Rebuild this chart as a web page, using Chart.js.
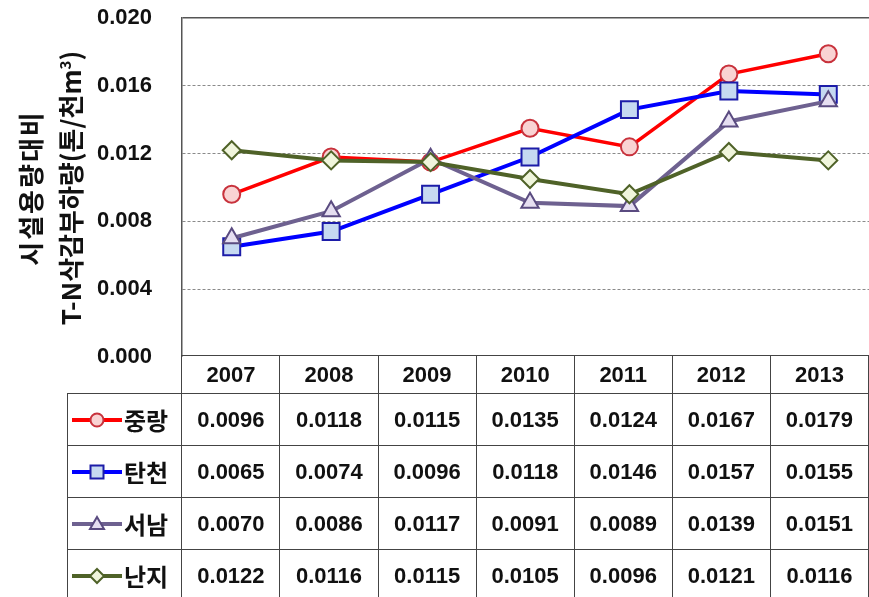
<!DOCTYPE html>
<html>
<head>
<meta charset="utf-8">
<script src="https://cdn.jsdelivr.net/npm/chart.js@4/dist/chart.umd.min.js"></script>
<style>
  html, body { margin: 0; padding: 0; background: #fff; width: 869px; height: 597px; overflow: hidden; }
  #wrap { position: relative; width: 869px; height: 597px; overflow: hidden; }
  #chart { position: absolute; left: 0; top: -25px; }
  .ytitle { position: absolute; width: 340px; height: 40px; line-height: 40px; text-align: center;
    font-family: "Noto Sans CJK KR", sans-serif; font-weight: bold; font-size: 26px; color: #111;
    transform: rotate(-90deg); white-space: nowrap; }
  .ytitle sup { font-size: 15px; line-height: 0; }
  table { position: absolute; left: 67px; top: 355px; border-collapse: collapse; table-layout: fixed; }
  td { border: 1.5px solid #444; padding: 0; text-align: center; color: #111;
    font-family: "Liberation Sans", Arial, sans-serif; font-weight: bold; font-size: 22px; }
  tr.head td { height: 37px; }
  tr.row td { height: 51px; }
  td.corner { border-top: none; border-left: none; }
  td.name { text-align: left; padding-left: 4px; white-space: nowrap; }
  td.name svg { vertical-align: middle; }
  td.name span { font-family: "Noto Sans CJK KR", sans-serif; font-size: 24px; vertical-align: middle; margin-left: 2px; }
</style>
</head>
<body>
<div id="wrap">
  <canvas id="chart" width="878" height="425"></canvas>
  <div class="ytitle" style="left:-140px; top:168px; letter-spacing:2px;">시설용량대비</div>
  <div class="ytitle" style="left:-100px; top:168px;">T-N삭감부하량(톤/천m<sup>3</sup>)</div>
  <table id="tbl"></table>
</div>
<script>
const years = ['2007', '2008', '2009', '2010', '2011', '2012', '2013'];
const seriesNames = ['중랑', '탄천', '서남', '난지'];
const jungnang = [0.0096, 0.0118, 0.0115, 0.0135, 0.0124, 0.0167, 0.0179];
const tancheon = [0.0065, 0.0074, 0.0096, 0.0118, 0.0146, 0.0157, 0.0155];
const seonam   = [0.0070, 0.0086, 0.0117, 0.0091, 0.0089, 0.0139, 0.0151];
const nanji    = [0.0122, 0.0116, 0.0115, 0.0105, 0.0096, 0.0121, 0.0116];
const yMax = 0.020;
const yStep = 0.004;

const styles = [
  { line: '#FF0000', fill: '#F9D3D3', edge: '#C8323C', shape: 'circle',   r: 8.5, lw: 3.5 },
  { line: '#0000FF', fill: '#C6D9F1', edge: '#1C1CA8', shape: 'rect',     r: 12,  lw: 4 },
  { line: '#6E6190', fill: '#E6DFF1', edge: '#5A4B80', shape: 'triangle', r: 10,  lw: 4 },
  { line: '#4F6228', fill: '#F0F5DC', edge: '#4F6228', shape: 'rectRot',  r: 9,   lw: 4 }
];
const values = [jungnang, tancheon, seonam, nanji];

const datasets = values.map((v, i) => ({
  label: seriesNames[i],
  data: v,
  order: 4 - i,
  borderColor: styles[i].line,
  borderWidth: styles[i].lw,
  pointStyle: styles[i].shape,
  pointRadius: styles[i].r,
  pointHoverRadius: styles[i].r,
  pointBackgroundColor: styles[i].fill,
  pointBorderColor: styles[i].edge,
  pointBorderWidth: 2,
  tension: 0,
  fill: false
}));

const isTop = ctx => ctx.tick && Math.abs(ctx.tick.value - yMax) < 1e-9;

new Chart(document.getElementById('chart'), {
  type: 'line',
  data: { labels: years, datasets },
  options: {
    responsive: false,
    animation: false,
    layout: { autoPadding: false, padding: { top: 17, bottom: 35, left: 0, right: 0 } },
    plugins: { legend: { display: false }, tooltip: { enabled: false } },
    scales: {
      x: { display: false, offset: true },
      y: {
        min: 0, max: yMax,
        afterFit: s => { s.width = 182; },
        ticks: {
          stepSize: yStep, padding: 30, color: '#111',
          font: { family: '"Liberation Sans", Arial, sans-serif', size: 22, weight: 'bold' },
          callback: v => Number(v).toFixed(3)
        },
        grid: {
          drawTicks: false,
          color: ctx => isTop(ctx) ? '#555' : (ctx.tick && ctx.tick.value === 0 ? 'rgba(0,0,0,0)' : '#8a8a8a'),
          lineWidth: ctx => isTop(ctx) ? 1.5 : 1
        },
        border: { display: true, color: '#555', width: 1.5, dash: ctx => isTop(ctx) ? [] : [3, 2] }
      }
    }
  }
});

function icon(st) {
  const c = 25, y = 11;
  let m = '';
  if (st.shape === 'circle') m = `<circle cx="${c}" cy="${y}" r="6.5"/>`;
  if (st.shape === 'rect') m = `<rect x="${c - 6.5}" y="${y - 6.5}" width="13" height="13"/>`;
  if (st.shape === 'triangle') m = `<polygon points="${c},${y - 7} ${c + 7},${y + 5} ${c - 7},${y + 5}"/>`;
  if (st.shape === 'rectRot') m = `<polygon points="${c},${y - 7} ${c + 7},${y} ${c},${y + 7} ${c - 7},${y}"/>`;
  return `<svg width="50" height="22"><line x1="0" y1="${y}" x2="50" y2="${y}" stroke="${st.line}" stroke-width="4"/>` +
    `<g fill="${st.fill}" stroke="${st.edge}" stroke-width="2">${m}</g></svg>`;
}

const colW = 99.43;
let html = '<colgroup><col style="width:115px">' + years.map(() => `<col style="width:${colW}px">`).join('') + '</colgroup>';
html += '<tr class="head"><td class="corner"></td>' + years.map(y => `<td>${y}</td>`).join('') + '</tr>';
values.forEach((v, i) => {
  html += `<tr class="row"><td class="name">${icon(styles[i])}<span>${seriesNames[i]}</span></td>` +
    v.map(x => `<td>${x.toFixed(4)}</td>`).join('') + '</tr>';
});
document.getElementById('tbl').innerHTML = html;
</script>
</body>
</html>
